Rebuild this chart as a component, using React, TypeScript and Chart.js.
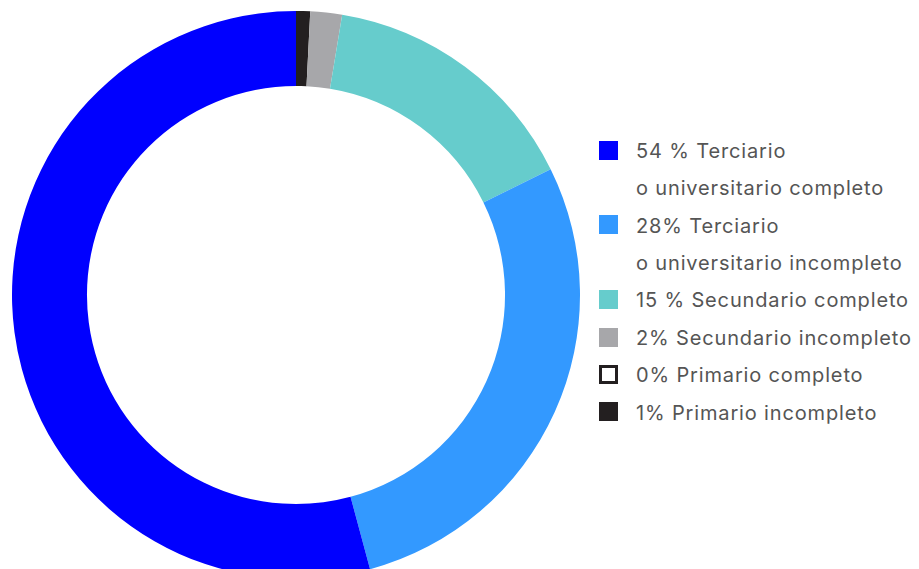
import React, { useEffect, useRef } from "react";
import { Chart, registerables } from "chart.js";

Chart.register(...registerables);

// Data in clockwise drawing order, starting at 12 o'clock
const categories = [
  "Primario incompleto",
  "Primario completo",
  "Secundario incompleto",
  "Secundario completo",
  "Terciario o universitario incompleto",
  "Terciario o universitario completo",
];
const values = [0.8, 0, 1.8, 15.1, 28.1, 54.2];
const colors = ["#231F20", "#FFFFFF", "#A7A7AA", "#66CCCC", "#3399FF", "#0000FF"];
const legendBorders = ["#231F20", "#231F20", "#A7A7AA", "#66CCCC", "#3399FF", "#0000FF"];
// Legend text lines (legend is shown in reverse order of the data)
const legendLines = [
  ["1% Primario incompleto"],
  ["0% Primario completo"],
  ["2% Secundario incompleto"],
  ["15 % Secundario completo"],
  ["28% Terciario", "o universitario incompleto"],
  ["54 % Terciario", "o universitario completo"],
];

const LINE_H = 37.4;

export default function App() {
  const ref = useRef<HTMLCanvasElement | null>(null);
  useEffect(() => {
    if (!ref.current) return;
    const chart = new Chart(ref.current, {
      type: "doughnut",
      data: {
        labels: categories,
        datasets: [
          {
            data: values,
            backgroundColor: colors,
            borderWidth: 0,
          },
        ],
      },
      options: {
        responsive: false,
        animation: false,
        cutout: "73.6%",
        layout: { padding: 0 },
        plugins: {
          legend: { display: false },
          tooltip: { enabled: false },
        },
      },
    });
    return () => chart.destroy();
  }, []);

  const order = [...legendLines.keys()].reverse();
  const rows: React.ReactNode[] = [];
  let lineIdx = 0;
  order.forEach((i) => {
    const lines = legendLines[i];
    const top = 131.3 + lineIdx * LINE_H;
    rows.push(
      <div
        key={"sq" + i}
        style={{
          position: "absolute",
          left: 599,
          top: top + LINE_H / 2 - 9.5,
          width: 19,
          height: 19,
          boxSizing: "border-box",
          background: colors[i],
          border: `3px solid ${legendBorders[i]}`,
        }}
      />
    );
    lines.forEach((t, k) => {
      rows.push(
        <div
          key={"t" + i + "_" + k}
          style={{
            position: "absolute",
            left: 636,
            top: top + k * LINE_H + 1.5,
            height: LINE_H,
            lineHeight: LINE_H + "px",
            whiteSpace: "nowrap",
            fontFamily: "Inter, sans-serif",
            fontSize: 20,
            letterSpacing: "0.85px",
            color: "#555555",
          }}
        >
          {t}
        </div>
      );
    });
    lineIdx += lines.length;
  });

  return (
    <div
      style={{
        position: "fixed",
        left: 0,
        top: 0,
        width: 919,
        height: 569,
        overflow: "hidden",
        background: "#fff",
      }}
    >
      <canvas
        ref={ref}
        width={568}
        height={568}
        style={{ position: "absolute", left: 11.5, top: 11, width: 568, height: 568 }}
      />
      {rows}
    </div>
  );
}
